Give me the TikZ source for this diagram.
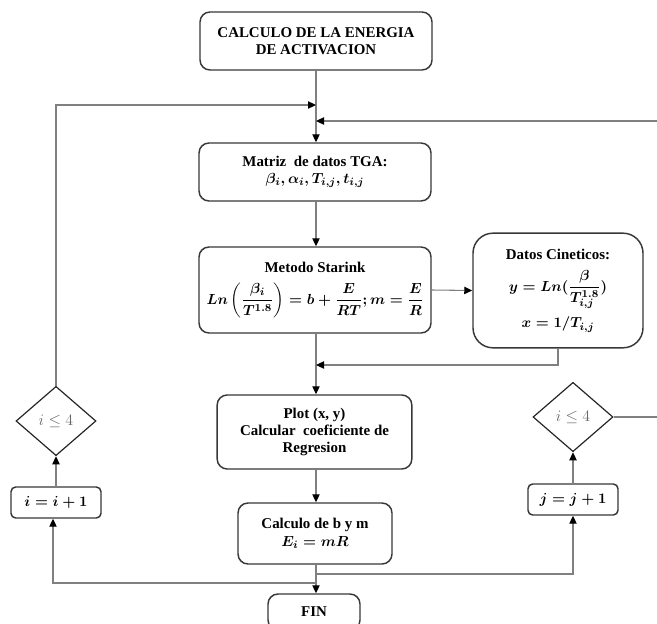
\documentclass[tikz,border=0pt]{standalone}
\usepackage{amsmath}
\usepackage{fontspec}
\setmainfont{Liberation Serif}
\usetikzlibrary{shapes.geometric,arrows.meta}
\begin{document}
\begin{tikzpicture}[x=0.75pt,y=-0.75pt,
  box/.style={draw=black!78, line width=1.1pt, rounded corners=7.5pt, align=center,
    font=\fontsize{11.2}{13}\selectfont\bfseries\boldmath, inner sep=2pt},
  sbox/.style={box, rounded corners=3.5pt},
  dia/.style={diamond, draw=black!85, line width=0.9pt, inner sep=0pt,
    minimum width=60pt, minimum height=52pt, text=black!60, font=\fontsize{11.5}{13}\selectfont},
  conn/.style={draw=black!50, line width=0.8pt},
  arr/.style={conn, -{Triangle[length=6pt,width=5.5pt,color=black]}},
]
\useasboundingbox (0,0) rectangle (657,624);

\node[box, minimum width=174pt, minimum height=43.5pt] (top) at (316,41)
  {CALCULO DE LA ENERGIA\\DE ACTIVACION};
\node[box, minimum width=174pt, minimum height=43.5pt] (mat) at (315,172)
  {Matriz\ \ de datos TGA:\\ $\beta_i, \alpha_i, T_{i,j}, t_{i,j}$};
\node[box, minimum width=174pt, minimum height=64.5pt] (sta) at (315,290)
  {Metodo Starink\\[7pt] $Ln\left(\dfrac{\beta_i}{T^{1.8}}\right) = b + \dfrac{E}{RT}; m = \dfrac{E}{R}$};
\node[box, rounded corners=15pt, minimum width=127.5pt, minimum height=86pt] (dat) at (558,290.5)
  {Datos Cineticos:\\[7pt] $y = Ln(\dfrac{\beta}{T^{1.8}_{i,j}})$\\[5pt] $x = 1/T_{i,j}$};
\node[box, minimum width=146pt, minimum height=55.5pt] (plo) at (314.5,432)
  {Plot (x, y)\\Calcular\ \ coeficiente de\\Regresion};
\node[box, minimum width=115.5pt, minimum height=45.75pt] (cal) at (315,533.5)
  {Calculo de b y m\\ $E_i = mR$};
\node[box, minimum width=69pt, minimum height=27pt] (fin) at (314,612) {FIN};

\node[dia] (ldi) at (56,421) {$i \leq 4$};
\node[dia] (rdi) at (573,417) {$i \leq 4$};
\node[sbox, minimum width=67.5pt, minimum height=23.25pt] (ibx) at (56,502.5) {$i = i + 1$};
\node[sbox, minimum width=67.5pt, minimum height=23.25pt] (jbx) at (573,499.5) {$j = j + 1$};

\coordinate (lt) at (316,105);
\coordinate (rt) at (316,121);
\coordinate (re) at (670,121);
\coordinate (dj) at (316,365);
\coordinate (bj) at (316,574);
\coordinate (bi) at (316,583);

\draw[arr] (top.south) -- (top.south |- mat.north);
\draw[arr] (ldi.north) |- (lt);
\draw[arr] (rdi.east) -- (rdi.east -| re) -- (re) -- (rt);
\draw[arr] (mat.south -| top.south) -- (top.south |- sta.north);
\draw[arr] (sta.east) -- (dat.west);
\draw[arr] (sta.south -| top.south) -- (top.south |- plo.north);
\draw[arr] (dat.south) |- (dj);
\draw[arr] (plo.south -| top.south) -- (top.south |- cal.north);
\draw[arr] (cal.south -| top.south) -- (top.south |- fin.north);
\draw[arr] (bj) -| (jbx.south);
\draw[arr] (bi) -| ([xshift=-2.25pt]ibx.south);
\draw[arr] (ibx.north) -- (ldi.south);
\draw[arr] (jbx.north) -- (rdi.south);
\end{tikzpicture}
\end{document}
